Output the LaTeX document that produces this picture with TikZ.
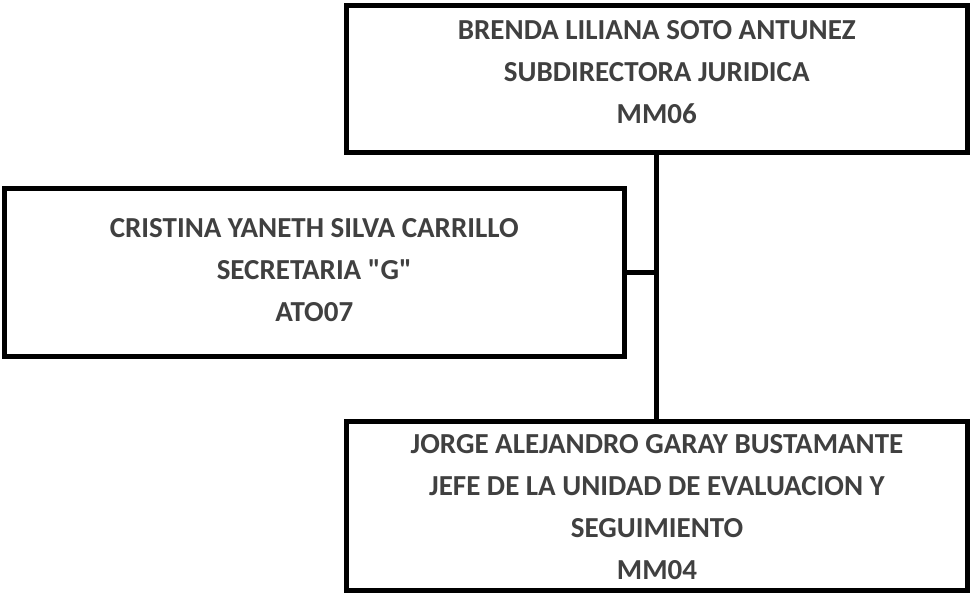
\documentclass[tikz,border=0pt]{standalone}
\usepackage{fontspec}
\setmainfont{Carlito}[Ligatures=TeXOff]
\definecolor{txtgray}{HTML}{404040}
\begin{document}
\begin{tikzpicture}[x=1pt,y=-1pt,
  box/.style={draw=black,line width=5pt,fill=white,inner sep=0pt,outer sep=0pt},
  txt/.style={align=center,text=txtgray,inner sep=0pt,font=\fontsize{29}{42}\selectfont\bfseries},
  link/.style={draw=black,line width=5pt}]
\useasboundingbox (0,0) rectangle (971,592);
\node[box,minimum width=620.5pt,minimum height=147pt] (top) at (656.75,78.5) {};
\node[box,minimum width=620.5pt,minimum height=168pt] (left) at (314.25,272) {};
\node[box,minimum width=621pt,minimum height=169pt] (bot) at (657,505.5) {};
\coordinate (j) at (656.5,272);
\draw[link] (top.south -| j) -- (bot.north -| j);
\draw[link] (left.east) -- (j);
\node[txt] (ttop) at (656.75,72.5) {BRENDA LILIANA SOTO ANTUNEZ\\SUBDIRECTORA JURIDICA\\MM06};
\node[txt] (tleft) at (314.25,270) {CRISTINA YANETH SILVA CARRILLO\\SECRETARIA "G"\\ATO07};
\node[txt] (tbot) at (657,507) {JORGE ALEJANDRO GARAY BUSTAMANTE\\JEFE DE LA UNIDAD DE EVALUACION Y\\SEGUIMIENTO\\MM04};
\end{tikzpicture}
\end{document}
